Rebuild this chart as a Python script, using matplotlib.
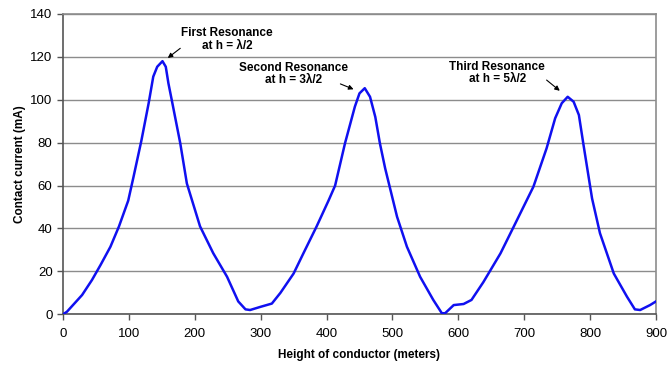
import matplotlib
matplotlib.use("Agg")
from matplotlib import pyplot as plt

plt.rcParams['font.family'] = ['Liberation Sans', 'DejaVu Sans']

# height of conductor (m) and contact current (mA)
height = [0, 6, 29, 44, 57, 72, 85, 99, 107, 119, 130, 137, 143, 151, 156,
          160, 165, 178, 188, 196, 208, 228, 249, 266, 277, 284, 300, 317,
          330, 350, 365, 385, 403, 413, 428, 443, 450, 458, 466, 474, 481,
          489, 497, 507, 522, 542, 562, 575, 580, 593, 608, 620, 638, 664,
          684, 714, 734, 747, 757, 766, 775, 783, 790, 803, 815, 836, 856,
          868, 876, 891, 900]
current = [0, 1.2, 9, 16, 23, 31.5, 41, 53, 64, 81, 98.4, 110.8, 115.4, 118,
           115.4, 107.7, 100, 79.7, 61, 53, 41, 28.5, 17.5, 6, 2.3, 2, 3.5,
           5, 10, 19, 28.5, 41, 53, 60, 79.7, 96.8, 103, 105.4, 101.4, 92,
           79.7, 68, 58, 45.5, 31.5, 17.5, 6.7, 0.5, 0.5, 4.3, 4.8, 6.7, 15,
           28.4, 40.8, 59.5, 77.4, 91.4, 98.4, 101.4, 99.1, 92.9, 79, 54,
           37.8, 19, 8.2, 2.3, 2, 4.3, 6]

notes = ["First Resonance\nat h = \u03bb/2",
         "Second Resonance\nat h = 3\u03bb/2",
         "Third Resonance\nat h = 5\u03bb/2"]
note_xy = [(249, 128), (350, 112), (659, 112.5)]
arrow_tail = [(178, 124), (421, 107.4), (734, 109.2)]
arrow_head = [(159, 119.5), (441, 104.9), (754, 104.2)]

fig = plt.figure(figsize=(6.68, 3.67), dpi=100)
ax = fig.add_axes([0.0943, 0.1436, 0.8877, 0.8183])

ax.plot(height, current, '-', c="#1010f0", lw=1.8, zorder=3,
        solid_joinstyle='round')

ax.set_xlim(0, 900)
ax.set_ylim(0, 140)
ax.set_xticks(range(0, 901, 100))
ax.set_yticks(range(0, 141, 20))
ax.grid(axis='y', color="#8c8c8c", lw=1.0)
ax.set_axisbelow(True)
for s in ['top', 'right']:
    ax.spines[s].set_color("#8c8c8c")
    ax.spines[s].set_linewidth(1.2)
for s in ['left', 'bottom']:
    ax.spines[s].set_color("#555555")
    ax.spines[s].set_linewidth(1.2)
ax.tick_params(direction='out', length=4, width=1, color="#555555",
               labelsize=9.5)
ax.tick_params(axis='x', pad=6)

ax.set_xlabel("Height of conductor (meters)", fontsize=8.5,
              fontweight='bold', labelpad=6)
ax.set_ylabel("Contact current (mA)", fontsize=8.5, fontweight='bold',
              labelpad=3)

for t, (tx, ty) in zip(notes, note_xy):
    ax.text(tx, ty, t, ha='center', va='center', fontsize=8.5,
            fontweight='bold', linespacing=1.1)
for (x0, y0), (x1, y1) in zip(arrow_tail, arrow_head):
    ax.annotate("", xy=(x1, y1), xytext=(x0, y0),
                arrowprops=dict(arrowstyle='-|>', color='black', lw=0.8,
                                mutation_scale=7, shrinkA=0, shrinkB=0))

plt.savefig("out.png", dpi=100)
plt.close()
